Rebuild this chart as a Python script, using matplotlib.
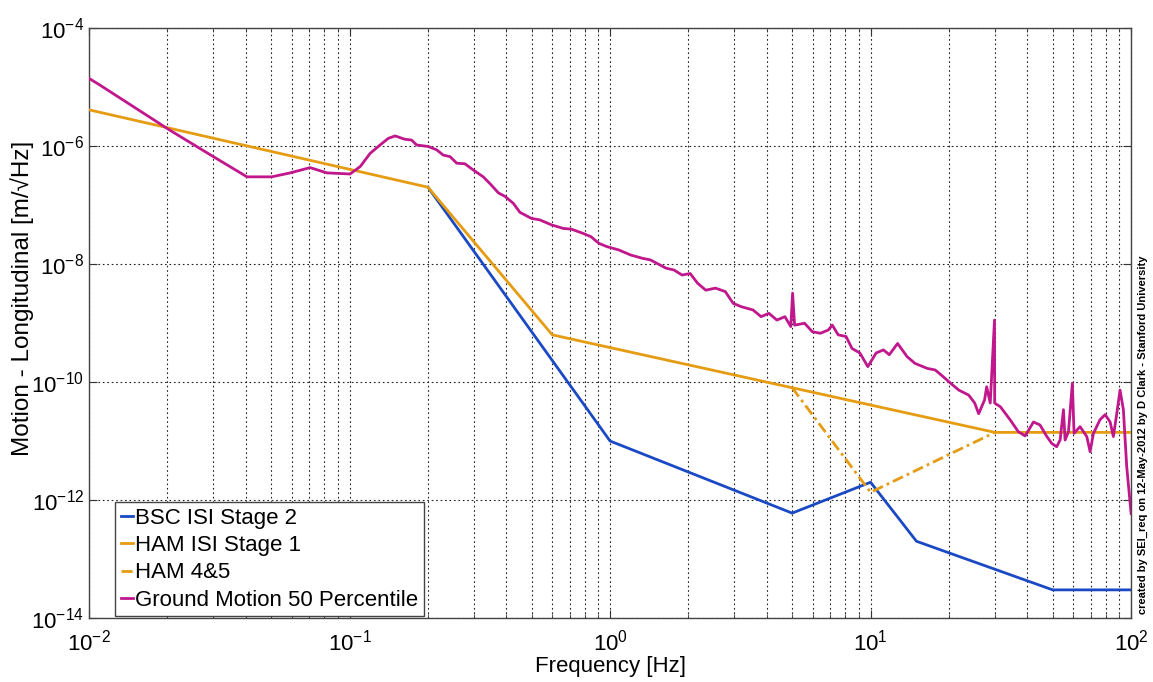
import matplotlib
matplotlib.use("Agg")
import matplotlib.pyplot as plt
from matplotlib.ticker import LogLocator, LogFormatterMathtext, NullFormatter, NullLocator

plt.rcParams['font.family'] = ['Liberation Sans', 'DejaVu Sans']
plt.rcParams['mathtext.default'] = 'regular'

# Requirement curves (frequency in Hz, amplitude in m/sqrt(Hz))
bsc_f = [0.2, 1.0, 5.0, 10.0, 15.0, 50.0, 100.0]
bsc_v = [2.0e-7, 1.0e-11, 6.0e-13, 2.0e-12, 2.0e-13, 3.0e-14, 3.0e-14]

ham_f = [0.01, 0.2, 0.6, 5.0, 30.0, 100.0]
ham_v = [4.1e-6, 2.0e-7, 6.3e-10, 8.0e-11, 1.4e-11, 1.4e-11]

ham45_f = [5.0, 10.0, 30.0]
ham45_v = [8.0e-11, 1.35e-12, 1.4e-11]

# Ground motion, 50th percentile
gnd_f = [0.01, 0.011, 0.0204, 0.030, 0.0404, 0.0503, 0.0592, 0.0706, 0.0818,
         0.1005, 0.11, 0.12, 0.131, 0.141, 0.1496, 0.163, 0.173, 0.181, 0.2006,
         0.216, 0.229, 0.243, 0.258, 0.277, 0.299, 0.326, 0.346, 0.373, 0.395,
         0.425, 0.451, 0.50, 0.537, 0.596, 0.662, 0.710, 0.788, 0.845, 0.906,
         0.972, 1.08, 1.20, 1.33, 1.43, 1.64, 1.76, 1.89, 2.03, 2.17, 2.33,
         2.54, 2.77, 2.97, 3.19, 3.54, 3.80, 4.07, 4.37, 4.69, 4.94, 5.02, 5.11,
         5.58, 5.98, 6.42, 6.88, 7.13, 7.51, 8.05, 8.49, 9.10, 9.76, 10.5, 11.2,
         11.8, 12.7, 13.8, 14.8, 16.5, 17.7, 19.0, 20.3, 21.8, 23.8, 25.1, 26.0,
         27.4, 27.9, 28.8, 29.9, 29.95, 31.5, 34.3, 36.9, 39.2, 42.2, 44.7,
         47.5, 49.6, 51.8, 53.4, 55.0, 55.8, 57.5, 59.5, 60.4, 63.7, 67.6, 69.6,
         71.7, 76.0, 79.5, 83.1, 85.5, 88.1, 90.7, 93.4, 96.2, 100.0]
gnd_v = [1.4e-5, 1.08e-5, 1.86e-6, 6.6e-7, 3.0e-7, 3.0e-7, 3.5e-7, 4.3e-7,
         3.5e-7, 3.35e-7, 4.5e-7, 7.5e-7, 1.04e-6, 1.35e-6, 1.48e-6, 1.30e-6,
         1.26e-6, 1.04e-6, 9.8e-7, 8.6e-7, 7.0e-7, 6.6e-7, 5.1e-7, 5.0e-7,
         3.9e-7, 3.0e-7, 2.3e-7, 1.6e-7, 1.4e-7, 1.07e-7, 7.5e-8, 5.9e-8,
         5.6e-8, 4.6e-8, 4.0e-8, 3.9e-8, 3.3e-8, 2.9e-8, 2.24e-8, 1.97e-8,
         1.73e-8, 1.42e-8, 1.25e-8, 1.17e-8, 8.5e-9, 7.9e-9, 6.5e-9, 6.9e-9,
         4.7e-9, 3.6e-9, 3.9e-9, 3.4e-9, 2.15e-9, 1.89e-9, 1.66e-9, 1.28e-9,
         1.46e-9, 1.12e-9, 1.28e-9, 8.7e-10, 3.2e-9, 9.2e-10, 9.9e-10, 7.1e-10,
         6.7e-10, 7.6e-10, 9.2e-10, 6.3e-10, 5.9e-10, 3.7e-10, 3.1e-10, 1.82e-10,
         3.1e-10, 3.5e-10, 2.9e-10, 4.5e-10, 2.7e-10, 2.07e-10, 1.7e-10, 1.6e-10,
         1.23e-10, 9.5e-11, 7.3e-11, 6.0e-11, 4.4e-11, 2.9e-11, 5.0e-11, 8.3e-11,
         4.4e-11, 1.12e-9, 4.4e-11, 3.8e-11, 2.3e-11, 1.44e-11, 1.22e-11,
         2.1e-11, 1.87e-11, 1.19e-11, 9.1e-12, 8.0e-12, 1.04e-11, 3.4e-11,
         1.04e-11, 1.44e-11, 9.5e-11, 1.35e-11, 1.75e-11, 1.19e-11, 6.6e-12,
         1.35e-11, 2.3e-11, 2.8e-11, 2.1e-11, 1.19e-11, 2.9e-11, 7.3e-11,
         3.4e-11, 3.7e-12, 5.9e-13]

labels = ["BSC ISI Stage 2", "HAM ISI Stage 1", "HAM 4&5", "Ground Motion 50 Percentile"]
c_blue = '#1a49c4'
c_orange = '#e59c12'
c_mag = '#c0178c'

fig = plt.figure(figsize=(11.53, 6.82), dpi=100)
ax = fig.add_axes([0.0772, 0.0938, 0.9038, 0.8652])

lw = 2.0
ax.plot(bsc_f, bsc_v, color=c_blue, lw=lw, label=labels[0], zorder=3)
ax.plot(ham_f, ham_v, color=c_orange, lw=lw, label=labels[1], zorder=3)
ax.plot(ham45_f, ham45_v, color=c_orange, lw=lw, ls=(0, (4, 1.5, 1, 1.5)),
        label=labels[2], zorder=3)
ax.plot(gnd_f, gnd_v, color=c_mag, lw=lw, label=labels[3], zorder=4)

ax.set_xscale('log')
ax.set_yscale('log')
ax.set_xlim(1e-2, 1e2)
ax.set_ylim(1e-14, 1e-4)

ax.xaxis.set_major_locator(LogLocator(base=10, numticks=10))
ax.xaxis.set_minor_locator(LogLocator(base=10, subs=range(2, 10), numticks=100))
ax.xaxis.set_minor_formatter(NullFormatter())
ax.yaxis.set_major_locator(LogLocator(base=100, numticks=10))
ax.yaxis.set_minor_locator(NullLocator())
ax.xaxis.set_major_formatter(LogFormatterMathtext())
ax.yaxis.set_major_formatter(LogFormatterMathtext())

ax.grid(True, which='major', axis='both', ls=(0, (1.5, 2.5)), color='#222222', lw=0.8)
ax.grid(True, which='minor', axis='x', ls=(0, (1.5, 2.5)), color='#222222', lw=0.8)

ax.tick_params(which='both', direction='in', top=True, right=True, labelsize=16,
               colors='#333333', labelcolor='black')
ax.tick_params(which='major', length=6)
ax.tick_params(which='minor', length=3)
ax.tick_params(axis='x', pad=8)
for s in ax.spines.values():
    s.set_color('#444444')
    s.set_linewidth(1.0)

ax.set_xlabel("Frequency [Hz]", fontsize=16, labelpad=1)
ax.set_ylabel("Motion - Longitudinal [m/\u221aHz]", fontsize=17.5)
ax.yaxis.set_label_coords(-0.053, 0.541)

leg = ax.legend(loc='lower left', bbox_to_anchor=(0.025, 0.003), fontsize=16,
                handlelength=0.55, handletextpad=0.1, labelspacing=0.28,
                borderpad=0.25, borderaxespad=0.0, fancybox=False, framealpha=1.0)
leg.get_frame().set_edgecolor('#444444')
leg.get_frame().set_linewidth(1.0)

fig.text(0.9915, 0.1, "created by SEI_req on 12-May-2012 by D Clark - Stanford University",
         rotation=90, fontsize=8, fontweight='bold', ha='center', va='bottom')

fig.savefig("out.png", dpi=100)
